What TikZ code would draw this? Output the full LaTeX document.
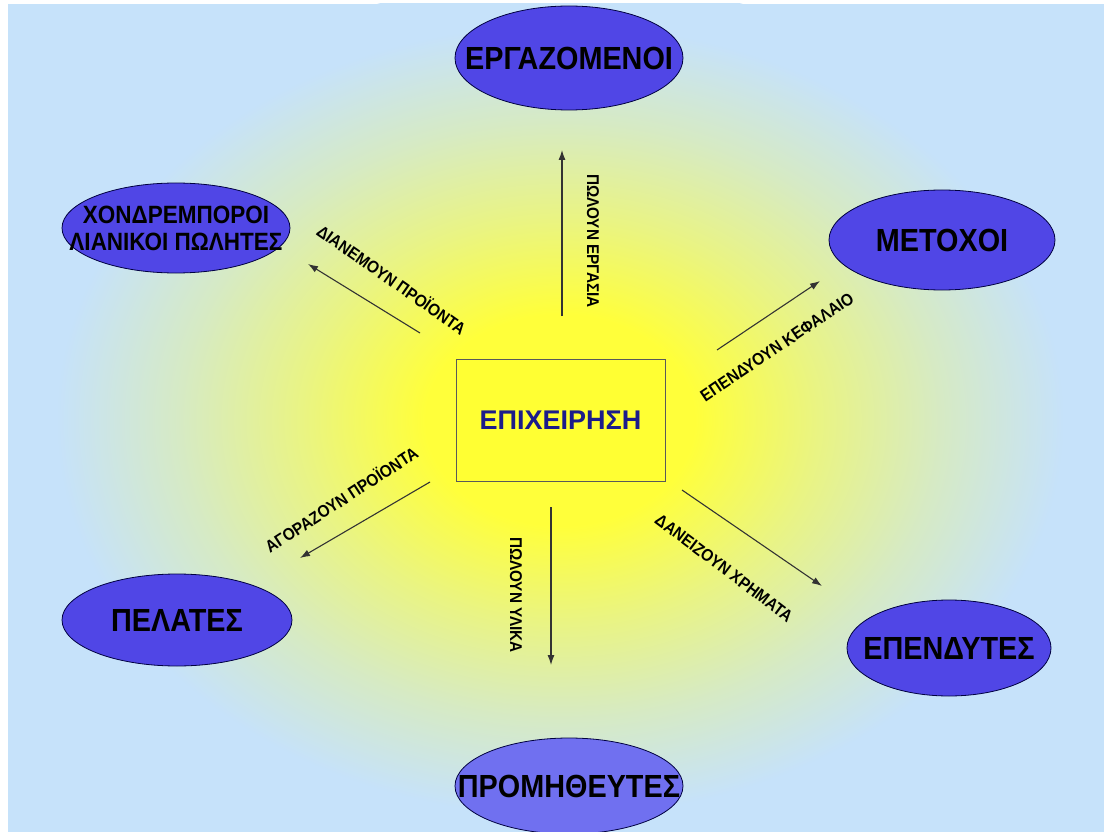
\documentclass[tikz,border=0pt]{standalone}
\usepackage{fontspec}
\setmainfont{Liberation Sans}
\newfontfamily\condbf[FakeStretch=0.9]{Liberation Sans}
\usetikzlibrary{shapes.geometric,arrows.meta}
\definecolor{bgblue}{HTML}{C6E2FA}
\definecolor{glowyellow}{HTML}{FFFF3A}
\definecolor{ellblue}{HTML}{5046E6}
\definecolor{elllight}{HTML}{7070F0}
\definecolor{boxyellow}{HTML}{FFFF33}
\definecolor{textnavy}{HTML}{1C1C8A}
\definecolor{arrowgray}{HTML}{333333}
\pgfdeclareradialshading{glow}{\pgfpoint{0bp}{0bp}}{%
  color(0bp)=(glowyellow);
  color(6bp)=(glowyellow);
  color(11.5bp)=(glowyellow!62!bgblue);
  color(17bp)=(glowyellow!28!bgblue);
  color(22.5bp)=(bgblue);
  color(50bp)=(bgblue)}
\begin{document}
\begin{tikzpicture}[x=1pt,y=-1pt,
  party/.style={ellipse,draw=black!75!blue,line width=0.8pt,fill=ellblue,inner sep=0pt},
  partytext/.style={inner sep=0pt,align=center,font=\condbf\bfseries\fontsize{32}{34}\selectfont},
  firm/.style={rectangle,draw=black!65,line width=1pt,fill=boxyellow,inner sep=0pt,
    minimum width=209pt,minimum height=122pt,text=textnavy,font=\bfseries\fontsize{27}{30}\selectfont},
  flow/.style={draw=arrowgray,line width=1.1pt,-{Latex[length=10pt,width=7pt]}},
  flowlabel/.style={inner sep=0pt,font=\condbf\bfseries\fontsize{17}{18}\selectfont}]
\useasboundingbox (0,0) rectangle (1104,832);
\fill[white] (0,0) rectangle (1104,832);
\begin{scope}
  \clip (8,4) rectangle (1104,832);
  \fill[bgblue] (8,4) rectangle (1104,832);
  \shade[shading=glow] (560,420) ellipse [x radius=560, y radius=440];
\end{scope}

% nodes
\node[firm] (firm) at (560.5,420) {ΕΠΙΧΕΙΡΗΣΗ};
\node[party,minimum width=228pt,minimum height=104pt] (workers) at (569,58) {};
\node[partytext] (workersT) at (workers.center) {ΕΡΓΑΖΟΜΕΝΟΙ};
\node[party,minimum width=228pt,minimum height=90pt] (dealers) at (176,228) {};
\node[partytext,font=\condbf\bfseries\fontsize{25}{27}\selectfont] (dealersT) at (dealers.center) {ΧΟΝΔΡΕΜΠΟΡΟΙ\\ΛΙΑΝΙΚΟΙ ΠΩΛΗΤΕΣ};
\node[party,minimum width=226pt,minimum height=100pt] (share) at (942,240) {};
\node[partytext] (shareT) at (share.center) {ΜΕΤΟΧΟΙ};
\node[party,minimum width=230pt,minimum height=92pt] (clients) at (177,620) {};
\node[partytext] (clientsT) at (clients.center) {ΠΕΛΑΤΕΣ};
\node[party,minimum width=204pt,minimum height=96pt] (invest) at (949,648) {};
\node[partytext,font=\condbf\bfseries\fontsize{32}{34}\selectfont] (investT) at (invest.center) {ΕΠΕΝΔΥΤΕΣ};
\node[party,fill=elllight,minimum width=228pt,minimum height=96pt] (supply) at (569,786) {};
\node[partytext,font=\condbf\bfseries\fontsize{32}{34}\selectfont] (supplyT) at (supply.center) {ΠΡΟΜΗΘΕΥΤΕΣ};

% arrow end points
\coordinate (upA) at (562,316);   \coordinate (upB) at (562,150);
\coordinate (ulA) at (420,333);   \coordinate (ulB) at (308,264);
\coordinate (urA) at (717,350);   \coordinate (urB) at (820,281);
\coordinate (dlA) at (430,482);   \coordinate (dlB) at (300,558);
\coordinate (dnA) at (551,507);   \coordinate (dnB) at (551,665);
\coordinate (drA) at (682,490);   \coordinate (drB) at (822,586);

\draw[flow] (upA) -- (upB);
\draw[flow] (ulA) -- (ulB);
\draw[flow] (urA) -- (urB);
\draw[flow] (dlA) -- (dlB);
\draw[flow] (dnA) -- (dnB);
\draw[flow] (drA) -- (drB);

% labels
\node[flowlabel,rotate=-90] (lup) at (593,241) {ΠΩΛΟΥΝ ΕΡΓΑΣΙΑ};
\node[flowlabel,rotate=-35] (lul) at (392,279) {ΔΙΑΝΕΜΟΥΝ ΠΡΟΪΟΝΤΑ};
\node[flowlabel,rotate=34] (lur) at (777,347) {ΕΠΕΝΔΥΟΥΝ ΚΕΦΑΛΑΙΟ};
\node[flowlabel,rotate=33] (ldl) at (341,499) {ΑΓΟΡΑΖΟΥΝ ΠΡΟΪΟΝΤΑ};
\node[flowlabel,rotate=-90] (ldn) at (516,595) {ΠΩΛΟΥΝ ΥΛΙΚΑ};
\node[flowlabel,rotate=-37] (ldr) at (724,568) {ΔΑΝΕΙΖΟΥΝ ΧΡΗΜΑΤΑ};
\end{tikzpicture}
\end{document}
